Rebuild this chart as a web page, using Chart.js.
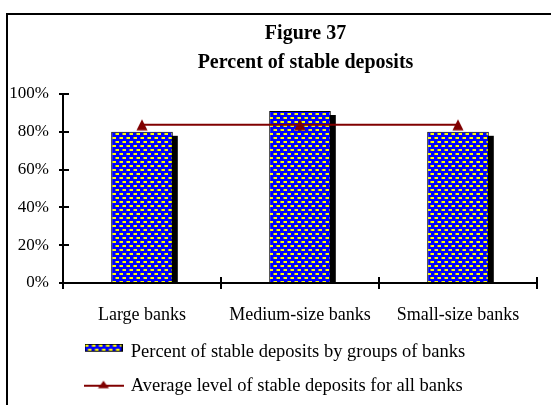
<!DOCTYPE html>
<html><head><meta charset="utf-8">
<script src="https://cdn.jsdelivr.net/npm/chart.js@4.4.1/dist/chart.umd.min.js"></script>
<style>
html,body{margin:0;padding:0;background:#fff;}
#wrap{position:relative;width:551px;height:405px;overflow:hidden;background:#fff;}
#frame{position:absolute;left:6px;top:13px;width:700px;height:500px;border-top:2px solid #000;border-left:2px solid #000;}
canvas{position:absolute;left:0;top:0;}
</style></head><body>
<div id="wrap"><div id="frame"></div><canvas id="c" width="551" height="405"></canvas></div>
<script>
const categories = ['Large banks', 'Medium-size banks', 'Small-size banks'];
const stableShare = [80, 91, 80];
const averageLevel = [83.7, 83.7, 83.7];
const yTicks = [0, 20, 40, 60, 80, 100];
const titleLines = ['Figure 37', 'Percent of stable deposits'];
const seriesNames = ['Percent of stable deposits by groups of banks', 'Average level of stable deposits for all banks'];

const SERIF = "'Liberation Serif', 'Times New Roman', Times, serif";
Chart.defaults.font.family = SERIF;
Chart.defaults.color = '#000';

function makeTile() {
  const t = document.createElement('canvas');
  t.width = 7; t.height = 8;
  const g = t.getContext('2d');
  g.fillStyle = '#0000ff'; g.fillRect(0, 0, 7, 8);
  g.fillStyle = '#ffff00';
  g.fillRect(1, 1, 3, 2);
  g.fillRect(4, 5, 3, 2);
  g.fillStyle = '#8a8a60';
  g.fillRect(0, 1, 1, 2); g.fillRect(3, 5, 1, 2);
  return t;
}
const tile = makeTile();

function barIcon() {
  const c = document.createElement('canvas');
  c.width = 38; c.height = 16;
  const g = c.getContext('2d');
  g.fillStyle = '#000'; g.fillRect(0, 0, 38, 8);
  g.fillStyle = g.createPattern(tile, 'repeat'); g.fillRect(1, 1, 36, 6);
  return c;
}
function lineIcon() {
  const c = document.createElement('canvas');
  c.width = 40; c.height = 12;
  const g = c.getContext('2d');
  g.strokeStyle = '#800000'; g.lineWidth = 2;
  g.beginPath(); g.moveTo(0, 6); g.lineTo(40, 6); g.stroke();
  g.fillStyle = '#800000';
  g.beginPath(); g.moveTo(20, 1); g.lineTo(25.5, 8.5); g.lineTo(14.5, 8.5); g.closePath(); g.fill();
  return c;
}
function triMarker() {
  const c = document.createElement('canvas');
  c.width = 12; c.height = 12;
  const g = c.getContext('2d');
  g.fillStyle = '#800000';
  g.beginPath(); g.moveTo(6, 0.5); g.lineTo(11.5, 11.5); g.lineTo(0.5, 11.5); g.closePath(); g.fill();
  return c;
}
const icons = [barIcon(), lineIcon()];

const ctx = document.getElementById('c').getContext('2d');
const barPattern = ctx.createPattern(tile, 'repeat');

const decor = {
  id: 'decor',
  afterLayout(chart) {
    chart.titleBlock.left = 60;
    chart.titleBlock.right = 551;
    chart.legend.left = 70;
  },
  beforeDatasetsDraw(chart) {
    const meta = chart.getDatasetMeta(0);
    const g = chart.ctx;
    g.save();
    g.fillStyle = '#000';
    meta.data.forEach(b => {
      const p = b.getProps(['x', 'y', 'base', 'width'], true);
      g.fillRect(p.x - p.width / 2 + 5, p.y + 4, p.width, p.base - p.y - 4);
    });
    g.restore();
  },
  afterDraw(chart) {
    const g = chart.ctx;
    const ys = chart.scales.y, xs = chart.scales.x;
    g.save();
    g.strokeStyle = '#000';
    g.lineWidth = 2;
    g.beginPath();
    ys.ticks.forEach(t => {
      const py = Math.round(ys.getPixelForValue(t.value));
      g.moveTo(ys.right - 4, py); g.lineTo(ys.right + 6, py);
    });
    const n = xs.ticks.length;
    for (let i = 0; i <= n; i++) {
      const px = Math.round(xs.left + i * xs.width / n);
      g.moveTo(px, xs.top - 6); g.lineTo(px, xs.top + 6);
    }
    g.stroke();
    g.restore();
  }
};

new Chart(ctx, {
  data: {
    labels: categories,
    datasets: [
      {
        type: 'bar',
        label: seriesNames[0],
        data: stableShare,
        backgroundColor: barPattern,
        borderColor: '#000',
        borderWidth: 1,
        barPercentage: 0.39,
        categoryPercentage: 1,
        order: 1
      },
      {
        type: 'line',
        label: seriesNames[1],
        data: averageLevel,
        borderColor: '#800000',
        backgroundColor: '#800000',
        borderWidth: 2,
        pointStyle: triMarker(),
        pointRadius: 6,
        fill: false,
        tension: 0,
        order: 0
      }
    ]
  },
  options: {
    responsive: false,
    devicePixelRatio: 1,
    animation: false,
    events: [],
    layout: { padding: { left: 10, right: 14, top: 0, bottom: 0 } },
    scales: {
      x: {
        type: 'category',
        offset: true,
        grid: { display: false, drawTicks: false },
        border: { display: true, color: '#000', width: 2, z: 1 },
        ticks: { font: { size: 18 }, padding: 21, maxRotation: 0, autoSkip: false, color: '#000' },
        afterFit(s) { s.height = 44; }
      },
      y: {
        min: 0, max: 100,
        grid: { display: false, drawTicks: false },
        border: { display: true, color: '#000', width: 2, z: 1 },
        afterBuildTicks(s) { s.ticks = yTicks.map(v => ({ value: v })); },
        ticks: { font: { size: 17 }, padding: 14, color: '#000', callback: v => v + '%' },
        afterFit(s) { s.width = 53; }
      }
    },
    plugins: {
      title: {
        display: true,
        text: titleLines,
        color: '#000',
        font: { size: 20, weight: 'bold', lineHeight: '29px' },
        padding: { top: 19, bottom: 17 }
      },
      legend: {
        display: true,
        position: 'bottom',
        align: 'start',
        labels: {
          color: '#000',
          font: { size: 18.5 },
          padding: 15.5,
          usePointStyle: true,
          pointStyleWidth: 36,
          sort: (a, b) => a.datasetIndex - b.datasetIndex,
          generateLabels(chart) {
            const items = Chart.defaults.plugins.legend.labels.generateLabels(chart);
            items.forEach(it => { it.pointStyle = icons[it.datasetIndex]; it.fontColor = '#000'; it.text = seriesNames[it.datasetIndex]; });
            return items;
          }
        }
      },
      tooltip: { enabled: false }
    }
  },
  plugins: [decor]
});
</script>
</body></html>
